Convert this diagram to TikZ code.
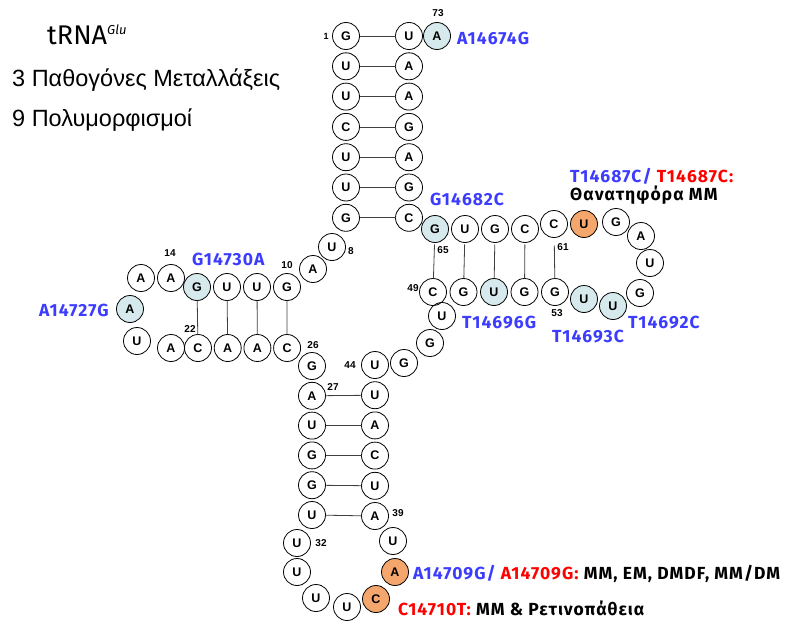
\documentclass[tikz,border=0pt]{standalone}
\usepackage{fontspec}
\setmainfont{Liberation Sans}
\newfontfamily\mutfont{Fira Sans}
\usetikzlibrary{positioning,chains,scopes}
\definecolor{polyfill}{RGB}{214,234,238}
\definecolor{pathofill}{RGB}{244,166,108}
\definecolor{polyblue}{RGB}{60,60,255}
\definecolor{pathored}{RGB}{255,0,0}
\tikzset{
    nt/.style = {
        circle, draw, line width=0.8pt,
        minimum size=27pt, inner sep=0pt, outer sep=0pt,
        font=\fontsize{12.5}{14}\selectfont\bfseries,
        },
    poly/.style = {
        fill = polyfill,
        },
    patho/.style = {
        fill = pathofill,
        },
    pair/.style = {
        draw=black!75,
        line width=0.8pt,
        },
    num/.style = {
        inner sep=0pt,
        font=\fontsize{10}{12}\selectfont\bfseries,
        },
    mut/.style = {
        inner sep=0pt,
        anchor=base west,
        font=\mutfont\bfseries\addfontfeature{LetterSpace=6}\fontsize{17.5}{20}\selectfont,
        },
    headline/.style = {
        inner sep=0pt,
        anchor=base west,
        font=\fontsize{23.5}{27}\selectfont,
        },
}
\begin{document}
\begin{tikzpicture}[x=1pt, y=-1pt]
            \useasboundingbox (0,0) rectangle (790,621);

            % headings
            \node [headline, font=\mutfont\fontsize{27}{31}\selectfont] (title) at (47,44) {tRNA\textsuperscript{\fontsize{13}{15}\selectfont\itshape Glu}};
            \node [headline] (npatho) at (12,86) {3 Παθογόνες Μεταλλάξεις};
            \node [headline] (npoly) at (12,126) {9 Πολυμορφισμοί};

            % acceptor stem
            { [start chain=going below, node distance=3.3pt]
            \node [nt, on chain] (n1) at (346,36) {G};
            \node [nt, on chain] (n2) {U};
            \node [nt, on chain] (n3) {U};
            \node [nt, on chain] (n4) {C};
            \node [nt, on chain] (n5) {U};
            \node [nt, on chain] (n6) {U};
            \node [nt, on chain] (n7) {G};
            }
            { [start chain=going below, node distance=3.3pt]
            \node [nt, on chain] (n72) at (409,36) {U};
            \node [nt, on chain] (n71) {A};
            \node [nt, on chain] (n70) {A};
            \node [nt, on chain] (n69) {G};
            \node [nt, on chain] (n68) {A};
            \node [nt, on chain] (n67) {G};
            \node [nt, on chain] (n66) {C};
            }
            \node [nt, poly] (n73) at (437,36) {A};

            \node [nt] (n8) at (332,247) {U};
            \node [nt] (n9) at (313,269) {A};

            % D arm
            { [start chain=going left, node distance=3pt]
            \node [nt, on chain] (n10) at (287,287) {G};
            \node [nt, on chain] (n11) {U};
            \node [nt, on chain] (n12) {U};
            \node [nt, on chain, poly] (n13) {G};
            }
            \node [nt] (n14) at (171,278) {A};
            \node [nt] (n15) at (141,278) {A};
            \node [nt, poly] (n16) at (130,309) {A};
            \node [nt] (n17) at (137,341) {U};
            \node [nt] (n18) at (171,348) {A};
            { [start chain=going right, node distance=2.7pt]
            \node [nt, on chain] (n22) at (198,348) {C};
            \node [nt, on chain] (n23) {A};
            \node [nt, on chain] (n24) {A};
            \node [nt, on chain] (n25) {C};
            }

            % anticodon arm
            { [start chain=going below, node distance=2.8pt]
            \node [nt, on chain] (n26) at (312,366) {G};
            \node [nt, on chain] (n27) {A};
            \node [nt, on chain] (n28) {U};
            \node [nt, on chain] (n29) {G};
            \node [nt, on chain] (n30) {G};
            \node [nt, on chain] (n31) {U};
            }
            \node [nt] (n32) at (297,543) {U};
            \node [nt] (n33) at (297,572) {U};
            \node [nt] (n34) at (316,598) {U};
            \node [nt] (n35) at (347,607) {U};
            \node [nt, patho] (n36) at (376,599) {C};
            \node [nt, patho] (n37) at (395,572) {A};
            \node [nt] (n38) at (393,541) {U};
            { [start chain=going below, node distance=3.2pt]
            \node [nt, on chain] (n44) at (375,365) {U};
            \node [nt, on chain] (n43) {U};
            \node [nt, on chain] (n42) {A};
            \node [nt, on chain] (n41) {C};
            \node [nt, on chain] (n40) {U};
            \node [nt, on chain] (n39) {A};
            }

            % variable loop
            \node [nt] (n45) at (404,363) {G};
            \node [nt] (n46) at (430,343) {G};
            \node [nt] (n47) at (442,316) {U};

            % T arm
            { [start chain=going right, node distance=3.5pt]
            \node [nt, on chain] (n49) at (433,292) {C};
            \node [nt, on chain] (n50) {G};
            \node [nt, on chain, poly] (n51) {U};
            \node [nt, on chain] (n52) {G};
            \node [nt, on chain] (n53) {G};
            }
            \node [nt, poly] (n54) at (584,299) {U};
            \node [nt, poly] (n55) at (613,306) {U};
            \node [nt] (n56) at (640,293) {G};
            \node [nt] (n57) at (650,263) {U};
            \node [nt] (n58) at (641,236) {A};
            \node [nt] (n59) at (616,222) {G};
            \node [nt, patho] (n60) at (584,224) {U};
            \node [nt] (n61) at (554,224) {C};
            { [start chain=going left, node distance=3pt]
            \node [nt, on chain] (n62) at (525,229) {C};
            \node [nt, on chain] (n63) {G};
            \node [nt, on chain] (n64) {U};
            \node [nt, on chain, poly] (n65) {G};
            }

            % position numbers
            \node [num, font=\fontsize{9}{11}\selectfont\bfseries] (lab1) at (326,36) {1};
            \node [num] (lab73) at (438,13) {73};
            \node [num] (lab8) at (351,251) {8};
            \node [num] (lab10) at (287,265) {10};
            \node [num] (lab14) at (170,253) {14};
            \node [num] (lab22) at (190,329) {22};
            \node [num] (lab26) at (313,345) {26};
            \node [num] (lab27) at (333,387) {27};
            \node [num] (lab44) at (350,365) {44};
            \node [num] (lab49) at (413,288) {49};
            \node [num] (lab65) at (443,250) {65};
            \node [num] (lab61) at (563,247) {61};
            \node [num] (lab53) at (557,313) {53};
            \node [num] (lab32) at (321,543) {32};
            \node [num] (lab39) at (398,513) {39};

            % base pairs
            \draw [pair] (n1) -- (n72);
            \draw [pair] (n2) -- (n71);
            \draw [pair] (n3) -- (n70);
            \draw [pair] (n4) -- (n69);
            \draw [pair] (n5) -- (n68);
            \draw [pair] (n6) -- (n67);
            \draw [pair] (n7) -- (n66);
            \draw [pair] (n10) -- (n25);
            \draw [pair] (n11) -- (n24);
            \draw [pair] (n12) -- (n23);
            \draw [pair] (n13) -- (n22);
            \draw [pair] (n27) -- (n43);
            \draw [pair] (n28) -- (n42);
            \draw [pair] (n29) -- (n41);
            \draw [pair] (n30) -- (n40);
            \draw [pair] (n31) -- (n39);
            \draw [pair, shorten <=2pt] (n65) -- (n49);
            \draw [pair, shorten <=2pt] (n64) -- (n50);
            \draw [pair, shorten <=2pt] (n63) -- (n51);
            \draw [pair, shorten <=2pt] (n62) -- (n52);
            \draw [pair, shorten <=8pt] (n61) -- (n53);

            % mutations
            \node [mut, text=polyblue] (m73) at (457,44) {A14674G};
            \node [mut, text=polyblue] (m65) at (430,205) {G14682C};
            \node [mut] (m60) at (570,182) {\textcolor{polyblue}{T14687C/} \textcolor{pathored}{T14687C:}};
            \node [mut] (m60b) at (570,200) {Θανατηφόρα ΜΜ};
            \node [mut, text=polyblue] (m13) at (192,265) {G14730A};
            \node [mut, text=polyblue] (m16) at (39,316) {A14727G};
            \node [mut, text=polyblue] (m51) at (462,328) {T14696G};
            \node [mut, text=polyblue] (m54) at (552,342) {T14693C};
            \node [mut, text=polyblue] (m55) at (628,328) {T14692C};
            \node [mut] (m37) at (413,579) {\textcolor{polyblue}{A14709G/} \textcolor{pathored}{A14709G:} MM, EM, DMDF, MM/DM};
            \node [mut] (m36) at (398,615) {\textcolor{pathored}{C14710T:} MM \& Ρετινοπάθεια};
\end{tikzpicture}
\end{document}
